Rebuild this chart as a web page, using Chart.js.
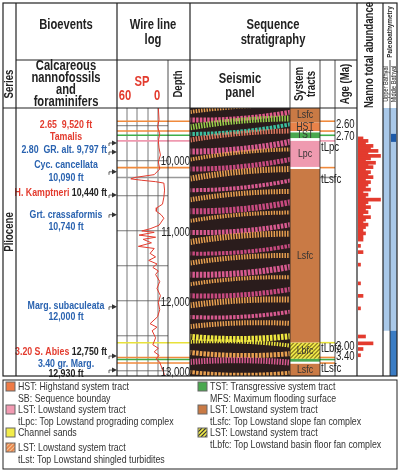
<!DOCTYPE html>
<html><head><meta charset="utf-8">
<script src="https://cdn.jsdelivr.net/npm/chart.js@4"></script>
<style>
body{margin:0;background:#fff}
#wrap{position:relative;width:400px;height:472px}
canvas{position:absolute;top:0}
</style></head>
<body><div id="wrap">
<canvas id="main" width="400" height="472" style="left:0"></canvas>
<canvas id="nanno" width="26" height="472" style="left:357px"></canvas>
</div>
<script>
const depthMin = 9232, depthMax = 13044
const depthTicks = [10000, 11000, 12000, 13000]
const gridDepths = [9484, 9982, 10480, 10978, 11476, 11974, 12472, 12970]

// SP log: [depth ft, SP mV]
const spDepth = [9232,9400,9500,9600,9700,9800,9900,10000,10100,10180,10220,10240,10260,10280,10300,10400,10500,10600,10650,10700,10750,10800,10900,10950,10980,11000,11040,11070,11100,11150,11200,11230,11300,11350,11400,11450,11500,11550,11600,11700,11800,11900,12000,12100,12200,12300,12350,12400,12500,12600,12650,12700,12750,12800,12850,12900,13000,13044]
const spValue = [6,5,7,4,6,5,3,6,4,12,40,46,30,10,-2,-3,-2,0,8,9,2,-2,5,18,30,12,34,10,28,16,35,12,18,10,20,8,14,6,10,4,8,3,6,4,7,18,8,15,10,14,6,12,5,9,4,2,-2,-3]

// Nanno total abundance
const nannoDepth = [9480,9520,9560,9600,9640,9680,9720,9760,9800,9830,9870,9900,9940,9980,10020,10060,10100,10140,10180,10220,10260,10300,10340,10380,10420,10460,10500,10540,10580,10620,10660,10700,10740,10780,10820,10860,10900,10950,11000,11050,11100,11200,11300,11500,11800,12000,12200,12650,12760,12850,12950]
const nannoValue = [2,4,3,6,5,8,4,9,5,3,7,4,6,3,5,4,6,3,5,4,3,5,2,4,3,9,4,3,5,3,4,2,5,3,2,4,3,2,3,2,2,1,2,1,1,2,1,3,6,2,1]

// System tracts: [top depth, bottom depth, label, colour]
const tracts = [
  [9232, 9440, 'Lsfc', '#c97a45'],
  [9440, 9560, 'HST', '#e8834a'],
  [9580, 9660, 'TST', '#4aa84f'],
  [9700, 10070, 'Lpc', '#ef9ab0'],
  [10100, 12570, 'Lsfc', '#c97a45'],
  [12570, 12800, 'Lbfc', '#f2ec4a'],
  [12800, 12840, '', '#4aa84f'],
  [12870, 13044, 'Lsfc', '#c97a45']
]
const markerDepths = [9420, 9560, 9620, 9700, 10080, 10220, 12570, 12780, 12810, 12860]
const markerColors = ['#f08a3c','#f08a3c','#3fae4a','#ef9ab0','#f08a3c','#999','#e8e23a','#f08a3c','#3fae4a','#f08a3c']
const ageLabels = ['2.60', '2.70', '3.00', '3.40']
const ageDepths = [9470, 9640, 12620, 12770]
const topLabels = ['tLpc', 'tLsfc', 'tLbfc', 'tLsfc']
const topDepths = [9800, 10250, 12650, 12940]

const bioDepths = [9730, 9858, 10140, 10470, 10750, 12060, 12760, 12960]
const bioLines = [
  [9475, [['2.65  9,520 ft', '#e33b2e']]],
  [9645, [['Tamalis', '#e33b2e']]],
  [9830, [['2.80  GR. alt. 9,797 ft', '#2a63b0']]],
  [10045, [['Cyc. cancellata', '#2a63b0']]],
  [10230, [['10,090 ft', '#2a63b0']]],
  [10440, [['H. Kamptneri', '#e33b2e'], [' 10,440 ft', '#222']]],
  [10750, [['Grt. crassaformis', '#2a63b0']]],
  [10920, [['10,740 ft', '#2a63b0']]],
  [12050, [['Marg. subaculeata', '#2a63b0']]],
  [12210, [['12,000 ft', '#2a63b0']]],
  [12700, [['3.20 S. Abies', '#e33b2e'], [' 12,750 ft', '#222']]],
  [12870, [['3.40 gr. Marg.', '#2a63b0']]],
  [13020, [['12,930 ft', '#222']]]
]

// seismic reflectors: [left depth, right depth, colour]
const reflectors = [
  [9300,9200,'#e8a050'],[9400,9280,'#e05a8a'],[9520,9380,'#9ad04a'],[9600,9450,'#3cc0a0'],[9700,9560,'#e07a60'],
  [9850,9700,'#d85a90'],[9980,9820,'#e8a050'],[10100,9950,'#c84a80'],[10250,10100,'#e8a050'],[10400,10250,'#d85a90'],
  [10550,10420,'#e8a050'],[10700,10560,'#c84a80'],[10850,10720,'#e8a050'],[11000,10880,'#d85a90'],[11150,11020,'#e8a050'],
  [11300,11180,'#c84a80'],[11450,11330,'#e8a050'],[11600,11480,'#d85a90'],[11750,11640,'#e8a050'],[11900,11800,'#c84a80'],
  [12050,11960,'#e8a050'],[12200,12120,'#d85a90'],[12350,12300,'#e8a050'],[12480,12470,'#f0e840'],[12560,12620,'#f0e840'],
  [12700,12720,'#e8a050'],[12850,12860,'#d85a90'],[12980,12990,'#e8a050']
]

const legendLeft = [
  ['#ef7a45', null, ['HST: Highstand system tract', 'SB: Sequence bounday']],
  ['#f29ab2', null, ['LST: Lowstand system tract', 'tLpc: Top Lowstand prograding complex']],
  ['#f2ec4a', null, ['Channel sands']],
  ['#e8834a', '#f3c090', ['LST: Lowstand system tract', 'tLst: Top Lowstand shingled turbidites']]
]
const legendRight = [
  ['#4aa84f', null, ['TST: Transgressive system tract', 'MFS: Maximum flooding surface']],
  ['#c97a45', null, ['LST: Lowstand system tract', 'tLsfc: Top Lowstand slope fan complex']],
  ['#f2ec4a', '#333', ['LST: Lowstand system tract', 'tLbfc: Top Lowstand basin floor fan complex']]
]

const FONT = '"Liberation Sans", Arial, sans-serif'
const RED = '#e33b2e'
const SQ = 0.8 // horizontal squeeze to mimic a condensed face

function hatch(ctx, x, y, w, h, c) {
  ctx.save(); ctx.beginPath(); ctx.rect(x, y, w, h); ctx.clip()
  ctx.strokeStyle = c; ctx.lineWidth = 1.2
  for (let i = -h; i < w; i += 4) { ctx.beginPath(); ctx.moveTo(x + i, y + h); ctx.lineTo(x + i + h, y); ctx.stroke() }
  ctx.restore()
}

// condensed text
function txt(ctx, s, x, y, font, color, align, rot) {
  ctx.save(); ctx.translate(x, y)
  if (rot) ctx.rotate(-Math.PI / 2)
  ctx.scale(SQ, 1)
  ctx.font = font; ctx.fillStyle = color || '#222'
  ctx.textAlign = align || 'center'; ctx.textBaseline = 'middle'
  ctx.fillText(s, 0, 0)
  ctx.restore()
}
function tw(ctx, s, font) { ctx.save(); ctx.font = font; const w = ctx.measureText(s).width * SQ; ctx.restore(); return w }

const figurePlugin = {
  id: 'figure',
  beforeDatasetsDraw(chart) {
    const ctx = chart.ctx, ys = chart.scales.y
    const Y = d => ys.getPixelForValue(d)
    ctx.save()
    ctx.strokeStyle = '#555'; ctx.lineWidth = 0.8
    ;[127, 137, 148, 158].forEach(x => { ctx.beginPath(); ctx.moveTo(x, 108); ctx.lineTo(x, 376); ctx.stroke() })
    gridDepths.forEach(d => { ctx.beginPath(); ctx.moveTo(117, Y(d)); ctx.lineTo(168, Y(d)); ctx.stroke() })
    markerDepths.forEach((d, i) => {
      ctx.strokeStyle = markerColors[i]; ctx.lineWidth = 1.6
      ctx.beginPath(); ctx.moveTo(117, Y(d)); ctx.lineTo(190, Y(d)); ctx.stroke()
      ctx.beginPath(); ctx.moveTo(320, Y(d)); ctx.lineTo(335, Y(d)); ctx.stroke()
    })
    ctx.restore()
  },
  afterDraw(chart) {
    const ctx = chart.ctx, ys = chart.scales.y
    const Y = d => ys.getPixelForValue(d)
    ctx.save()
    // seismic panel
    ctx.fillStyle = '#2a1c1c'; ctx.fillRect(190, 108, 100, 268)
    ctx.save(); ctx.beginPath(); ctx.rect(190, 108, 100, 268); ctx.clip()
    reflectors.forEach(([a, b, c], i) => {
      ctx.strokeStyle = c; ctx.lineWidth = 4 + (i % 3); ctx.setLineDash([1.5 + (i % 2), 1.2])
      ctx.beginPath(); ctx.moveTo(185, Y(a)); ctx.quadraticCurveTo(240, Y((a + b) / 2) + (i % 2 ? 6 : -5), 295, Y(b)); ctx.stroke()
    })
    ctx.restore(); ctx.setLineDash([])
    // system tracts
    tracts.forEach(([t, b, lab, c]) => {
      const y0 = Y(t), y1 = Y(b)
      ctx.fillStyle = c; ctx.fillRect(290, y0, 30, y1 - y0)
      if (lab === 'Lbfc') hatch(ctx, 290, y0, 30, y1 - y0, '#8a7a20')
      if (lab) txt(ctx, lab, 305, (y0 + y1) / 2, '11px ' + FONT, '#333')
    })
    ageLabels.forEach((l, i) => txt(ctx, l, 336, Y(ageDepths[i]), '12px ' + FONT, '#222', 'left'))
    topLabels.forEach((l, i) => txt(ctx, l, 321, Y(topDepths[i]), '12px ' + FONT, '#222', 'left'))
    // paleobathymetry
    ctx.fillStyle = '#a9c8e8'; ctx.fillRect(383, 108, 14, Y(12400) - 108)
    ctx.fillStyle = '#3a7cc4'; ctx.fillRect(390, Y(12400), 7, 376 - Y(12400))
    ctx.fillStyle = '#1d5aa8'; ctx.fillRect(391, Y(9600), 5, 8)
    // depth ticks
    depthTicks.forEach(d => txt(ctx, d.toLocaleString('en-US'), 190, Y(d), '12px ' + FONT, '#222', 'right'))
    // bioevent text
    const bf = 'bold 11px ' + FONT
    bioLines.forEach(([d, parts]) => {
      const w = parts.reduce((s, p) => s + tw(ctx, p[0], bf), 0)
      let x = Math.min(66 - w / 2, 107 - w)
      parts.forEach(([t, c]) => { txt(ctx, t, x, Y(d), bf, c, 'left'); x += tw(ctx, t, bf) })
    })
    ctx.strokeStyle = '#333'; ctx.fillStyle = '#333'; ctx.lineWidth = 0.8
    bioDepths.forEach(d => {
      const y = Y(d)
      ctx.beginPath(); ctx.moveTo(109, y + 3); ctx.lineTo(109, y); ctx.lineTo(113, y); ctx.stroke()
      ctx.beginPath(); ctx.moveTo(117, y); ctx.lineTo(112, y - 2.5); ctx.lineTo(112, y + 2.5); ctx.fill()
    })
    // frame
    ctx.strokeStyle = '#222'; ctx.lineWidth = 1.2
    ctx.strokeRect(3, 3, 394, 373)
    const hl = (x0, x1, y) => { ctx.beginPath(); ctx.moveTo(x0, y); ctx.lineTo(x1, y); ctx.stroke() }
    const vl = (x, y0, y1) => { ctx.beginPath(); ctx.moveTo(x, y0); ctx.lineTo(x, y1); ctx.stroke() }
    hl(3, 357, 108); hl(16, 357, 60)
    vl(16, 3, 376); vl(117, 3, 376); vl(190, 3, 376); vl(357, 3, 376); vl(383, 3, 376)
    ctx.lineWidth = 0.8
    vl(168, 60, 376); vl(290, 60, 376); vl(320, 60, 376); vl(335, 60, 376); vl(390, 60, 376)
    // headers
    const hf = 'bold 14px ' + FONT
    txt(ctx, 'Bioevents', 66, 25, hf); txt(ctx, 'Wire line', 153, 25, hf); txt(ctx, 'log', 153, 40, hf)
    txt(ctx, 'Sequence', 273, 25, hf); txt(ctx, 'stratigraphy', 273, 40, hf)
    ;['Calcareous', 'nannofossils', 'and', 'foraminifers'].forEach((s, i) => txt(ctx, s, 66, 66 + i * 12, hf))
    txt(ctx, 'Seismic', 240, 79, hf); txt(ctx, 'panel', 240, 93, hf)
    txt(ctx, 'SP', 142, 82, hf, RED); txt(ctx, '60', 125, 96, hf, RED); txt(ctx, '0', 157, 96, hf, RED)
    const vf = 'bold 12px ' + FONT
    txt(ctx, 'Series', 10, 84, vf, null, 'center', true)
    txt(ctx, 'Pliocene', 10, 232, vf, null, 'center', true)
    txt(ctx, 'Depth', 179, 84, vf, null, 'center', true)
    txt(ctx, 'System', 300, 84, vf, null, 'center', true); txt(ctx, 'tracts', 312, 84, vf, null, 'center', true)
    txt(ctx, 'Age (Ma)', 346, 84, vf, null, 'center', true)
    txt(ctx, 'Nanno total abundance', 370, 55, vf, null, 'center', true)
    txt(ctx, 'Paleobathymetry', 390, 32, 'bold 8px ' + FONT, null, 'center', true)
    txt(ctx, 'Upper Bathyal', 386, 84, '7px ' + FONT, null, 'center', true)
    txt(ctx, 'Middle Bathyal', 394, 84, '7px ' + FONT, null, 'center', true)
    // legend
    ctx.strokeStyle = '#222'; ctx.lineWidth = 1; ctx.strokeRect(3, 380, 394, 89)
    const lf = '11px ' + FONT
    const drawLegend = (items, x, ys0) => items.forEach(([c, h, lines], i) => {
      const y = ys0[i]
      ctx.fillStyle = c; ctx.fillRect(x, y - 4, 9, 9)
      if (h) hatch(ctx, x, y - 4, 9, 9, h)
      ctx.strokeStyle = '#666'; ctx.strokeRect(x, y - 4, 9, 9)
      lines.forEach((l, k) => txt(ctx, l, x + 12, y + 1 + k * 12, lf, '#333', 'left'))
    })
    drawLegend(legendLeft, 6, [386, 409, 432, 447])
    drawLegend(legendRight, 198, [386, 409, 432])
    ctx.restore()
  }
}

new Chart(document.getElementById('main'), {
  type: 'line',
  data: {
    datasets: [{
      data: spDepth.map((d, i) => ({ x: spValue[i], y: d })),
      borderColor: RED, borderWidth: 1, pointRadius: 0, tension: 0
    }]
  },
  options: {
    responsive: false, animation: false,
    layout: { padding: { left: 117, right: 232, top: 108, bottom: 96 } },
    plugins: { legend: { display: false }, tooltip: { enabled: false } },
    scales: {
      x: { type: 'linear', min: -8, max: 66, reverse: true, display: false },
      y: { type: 'linear', min: depthMin, max: depthMax, reverse: true, display: false }
    }
  },
  plugins: [figurePlugin]
})

new Chart(document.getElementById('nanno'), {
  type: 'bar',
  data: {
    datasets: [{
      data: nannoDepth.map((d, i) => ({ x: nannoValue[i], y: d })),
      backgroundColor: RED, barThickness: 3
    }]
  },
  options: {
    indexAxis: 'y', responsive: false, animation: false,
    layout: { padding: { left: 1, right: 0, top: 108, bottom: 96 } },
    plugins: { legend: { display: false }, tooltip: { enabled: false } },
    scales: {
      x: { type: 'linear', min: 0, max: 10, display: false },
      y: { type: 'linear', min: depthMin, max: depthMax, reverse: true, display: false }
    }
  }
})
</script>
</body></html>
